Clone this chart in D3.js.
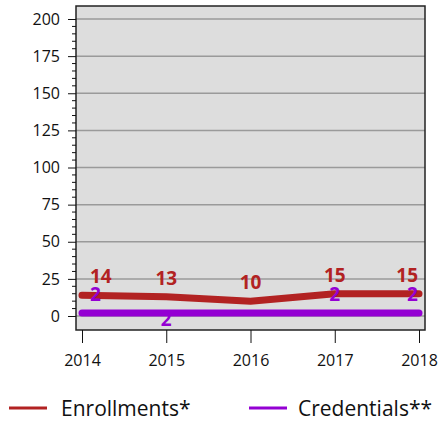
<!DOCTYPE html>
<html>
<head>
<meta charset="utf-8">
<script src="https://cdn.jsdelivr.net/npm/d3@7"></script>
<style>
  body { margin: 0; background: #fff; }
  text { font-family: "Open Sans", "Noto Sans", sans-serif; }
</style>
</head>
<body>
<div id="chart"></div>
<script>
const years = [2014, 2015, 2016, 2017, 2018];
const enrollments = [14, 13, 10, 15, 15];
const credentials = [2, 2, 2, 2, 2];
const yTicks = [0, 25, 50, 75, 100, 125, 150, 175, 200];
const seriesNames = ["Enrollments*", "Credentials**"];
// where the credential value labels sit (null = not shown)
const credLabelPos = ["above", "below", null, "above", "above"];

const width = 446, height = 422;
const red = "#b22222", purple = "#9400d3";

const svg = d3.select("#chart").append("svg")
  .attr("width", width).attr("height", height);

const plot = { left: 76, right: 425, top: 6, bottom: 330 };

const x = d3.scalePoint().domain(years).range([82, 419]);
const y = d3.scaleLinear().domain([0, 200]).range([316, 19]);

// background
svg.append("rect")
  .attr("x", plot.left).attr("y", plot.top)
  .attr("width", plot.right - plot.left)
  .attr("height", plot.bottom - plot.top)
  .attr("fill", "#dddddd");

// gridlines
svg.append("g").selectAll("line").data(yTicks).enter().append("line")
  .attr("x1", plot.left).attr("x2", plot.right)
  .attr("y1", d => y(d)).attr("y2", d => y(d))
  .attr("stroke", "#9a9a9a").attr("stroke-width", 1.5);

// border
svg.append("rect")
  .attr("x", plot.left).attr("y", plot.top)
  .attr("width", plot.right - plot.left)
  .attr("height", plot.bottom - plot.top)
  .attr("fill", "none").attr("stroke", "#222").attr("stroke-width", 1.5);

// y axis
const yAxis = d3.axisLeft(y).tickValues(yTicks).tickSize(8).tickPadding(8);
const yg = svg.append("g").attr("transform", `translate(${plot.left},0)`).call(yAxis);
yg.select(".domain").remove();
yg.selectAll(".tick text").attr("font-size", 16).attr("fill", "#111");
yg.selectAll(".tick line").attr("stroke", "#111");

const minor = d3.range(0, 201, 5).filter(d => d % 25 !== 0);
svg.append("g").selectAll("line").data(minor).enter().append("line")
  .attr("x1", plot.left - 4).attr("x2", plot.left)
  .attr("y1", d => y(d)).attr("y2", d => y(d))
  .attr("stroke", "#111");

// x axis
const xAxis = d3.axisBottom(x).tickSize(13).tickPadding(12).tickFormat(d3.format("d"));
const xg = svg.append("g").attr("transform", `translate(0,${plot.bottom})`).call(xAxis);
xg.select(".domain").remove();
xg.selectAll(".tick text").attr("font-size", 16).attr("fill", "#111");
xg.selectAll(".tick line").attr("stroke", "#111");

const line = d3.line().x((d, i) => x(years[i])).y(d => y(d));

svg.append("path").datum(credentials)
  .attr("d", line).attr("fill", "none")
  .attr("stroke", purple).attr("stroke-width", 7)
  .attr("stroke-linecap", "round").attr("stroke-linejoin", "round");

svg.append("path").datum(enrollments)
  .attr("d", line).attr("fill", "none")
  .attr("stroke", red).attr("stroke-width", 7)
  .attr("stroke-linecap", "round").attr("stroke-linejoin", "round");

// value labels, kept inside the plot
function clampLabels(sel) {
  sel.each(function() {
    const b = this.getBBox();
    let dx = 0;
    if (b.x < 90) dx = 90 - b.x;
    if (b.x + b.width > 418) dx = 418 - (b.x + b.width);
    d3.select(this).attr("x", +d3.select(this).attr("x") + dx);
  });
}

svg.append("g").selectAll("text").data(enrollments).enter().append("text")
  .attr("x", (d, i) => x(years[i]))
  .attr("y", d => y(d) - 12)
  .attr("text-anchor", "middle")
  .attr("font-size", 19).attr("font-weight", "bold")
  .attr("fill", red)
  .text(d => d)
  .call(clampLabels);

svg.append("g").selectAll("text")
  .data(credentials.map((v, i) => ({ v, i })).filter(d => credLabelPos[d.i]))
  .enter().append("text")
  .attr("x", d => x(years[d.i]))
  .attr("y", d => credLabelPos[d.i] === "above" ? y(d.v) - 12 : y(d.v) + 13)
  .attr("text-anchor", "middle")
  .attr("font-size", 19).attr("font-weight", "bold")
  .attr("fill", purple)
  .text(d => d.v)
  .call(clampLabels);

// legend
const legend = [
  { name: seriesNames[0], color: red, x0: 9, tx: 61 },
  { name: seriesNames[1], color: purple, x0: 249, tx: 298 }
];
const lg = svg.append("g").selectAll("g").data(legend).enter().append("g");
lg.append("line")
  .attr("x1", d => d.x0).attr("x2", d => d.x0 + 38)
  .attr("y1", 408).attr("y2", 408)
  .attr("stroke", d => d.color).attr("stroke-width", 3);
lg.append("text")
  .attr("x", d => d.tx).attr("y", 416)
  .attr("font-size", 21).attr("fill", "#111")
  .text(d => d.name);
</script>
</body>
</html>
